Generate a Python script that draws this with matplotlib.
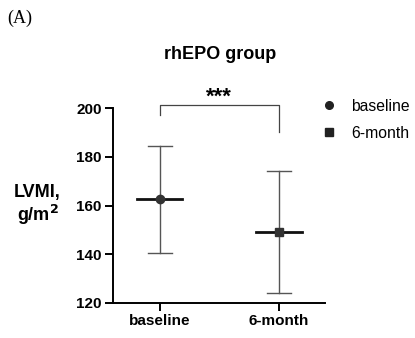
"""rhEPO group: LVMI at baseline vs 6-month, mean with range bars."""

import matplotlib

matplotlib.use("Agg")

import matplotlib.pyplot as plt  # noqa: E402
from matplotlib.lines import Line2D  # noqa: E402

groups = ["baseline", "6-month"]
means = [162.5, 149.0]
upper = [184.5, 174.0]
lower = [140.5, 124.0]
markers = ["o", "s"]
yticks = [120, 140, 160, 180, 200]

plt.rcParams["font.family"] = ["Liberation Sans", "DejaVu Sans"]

fig = plt.figure(figsize=(4.15, 3.38), dpi=100)
ax = fig.add_axes([0.272, 0.1036, 0.511, 0.5764])

for i, (m, hi, lo) in enumerate(zip(means, upper, lower)):
    # whiskers with caps
    ax.plot([i, i], [lo, hi], color="#555555", lw=1.0, zorder=2)
    for y in (lo, hi):
        ax.plot([i - 0.1, i + 0.1], [y, y], color="#555555", lw=1.0, zorder=2)
    # mean bar + marker
    ax.plot([i - 0.19, i + 0.19], [m, m], color="#111111", lw=2.0, zorder=3)
    ax.plot(i, m, marker=markers[i], color="#333333", ms=6, zorder=4, ls="none")

# significance bracket
top = 201.2
ax.plot([0, 0, 1, 1], [top - 4.2, top, top, top - 10.9],
        color="#444444", lw=0.9, clip_on=False)
ax.text(0.5, top + 3.4, "***", ha="center", va="center",
        fontsize=16, fontweight="bold", clip_on=False)

ax.set_xlim(-0.395, 1.387)
ax.set_ylim(120, 200)
ax.set_xticks(range(len(groups)))
ax.set_xticklabels(groups, fontsize=11, fontweight="bold")
ax.set_yticks(yticks)
ax.set_yticklabels([str(t) for t in yticks], fontsize=11, fontweight="bold")
ax.tick_params(axis="both", length=6, width=1.4, direction="out", pad=2)
for side in ("top", "right"):
    ax.spines[side].set_visible(False)
for side in ("left", "bottom"):
    ax.spines[side].set_linewidth(1.4)

ax.set_ylabel("LVMI,\ng/m$^\\mathbf{2}$", rotation=0, fontsize=13,
              fontweight="bold", ha="center", va="center", labelpad=0,
              linespacing=1.1)
ax.yaxis.set_label_coords(-0.355, 0.5)

fig.text(0.530, 1 - 59 / 338, "rhEPO group", fontsize=13, fontweight="bold",
         ha="center", va="baseline")

handles = [Line2D([], [], marker=mk, color="#222222", ls="none", ms=5.5)
           for mk in markers]
ax.legend(handles, groups, loc="upper left", bbox_to_anchor=(0.915, 1.12),
          frameon=False, fontsize=11.3, handletextpad=0.9, labelspacing=0.75,
          handlelength=1.0)

fig.text(0.017, 0.97, "(A)", family="Liberation Serif", fontsize=13,
         va="top", ha="left")

fig.savefig("out.png", dpi=100)
